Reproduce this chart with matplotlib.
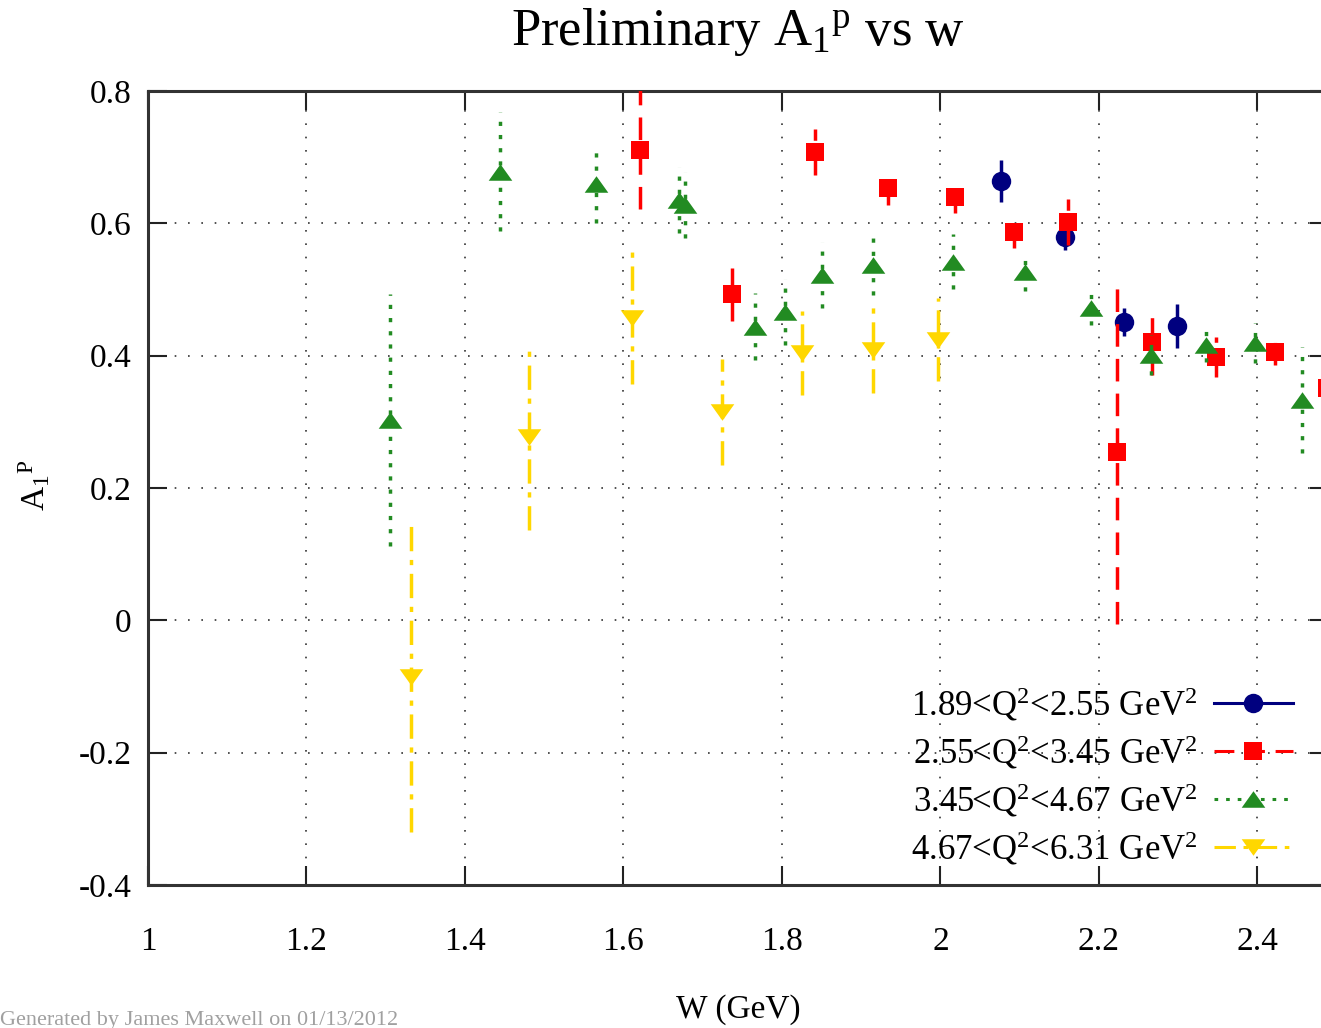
import matplotlib
matplotlib.use('Agg')
import matplotlib.pyplot as plt
from matplotlib.lines import Line2D

plt.rcParams['font.family'] = ['Liberation Serif', 'DejaVu Serif']
plt.rcParams['mathtext.fontset'] = 'custom'
plt.rcParams['mathtext.rm'] = 'Liberation Serif'
plt.rcParams['mathtext.it'] = 'Liberation Serif:italic'
plt.rcParams['mathtext.default'] = 'regular'

# A1p asymmetry per Q^2 bin: W (GeV), value, error
w_q1 = [2.076, 2.157, 2.232, 2.298]
a_q1 = [0.664, 0.580, 0.451, 0.445]
e_q1 = [0.032, 0.020, 0.021, 0.033]

w_q2 = [1.621, 1.737, 1.842, 1.934, 2.018, 2.093, 2.161, 2.223, 2.267, 2.348, 2.422, 2.488]
a_q2 = [0.711, 0.493, 0.708, 0.653, 0.640, 0.587, 0.602, 0.255, 0.421, 0.398, 0.406, 0.351]
e_q2 = [0.090, 0.040, 0.035, 0.025, 0.024, 0.025, 0.035, 0.260, 0.050, 0.030, 0.020, 0.030]

w_q3 = [1.305, 1.444, 1.565, 1.670, 1.678, 1.766, 1.804, 1.850, 1.915, 2.016, 2.107,
        2.190, 2.266, 2.335, 2.397, 2.456]
a_q3 = [0.303, 0.678, 0.660, 0.635, 0.628, 0.444, 0.466, 0.522, 0.537, 0.542, 0.527,
        0.472, 0.401, 0.416, 0.419, 0.333]
e_q3 = [0.190, 0.090, 0.060, 0.050, 0.050, 0.050, 0.050, 0.050, 0.045, 0.042, 0.030,
        0.025, 0.030, 0.025, 0.030, 0.080]

w_q4 = [1.332, 1.481, 1.611, 1.724, 1.825, 1.915, 1.997]
a_q4 = [-0.085, 0.277, 0.457, 0.315, 0.404, 0.409, 0.424]
e_q4 = [0.235, 0.140, 0.100, 0.080, 0.063, 0.065, 0.063]

labels = ['1.89<Q$^2$<2.55 GeV$^2$', '2.55<Q$^2$<3.45 GeV$^2$',
          '3.45<Q$^2$<4.67 GeV$^2$', '4.67<Q$^2$<6.31 GeV$^2$']
xticks = [1, 1.2, 1.4, 1.6, 1.8, 2, 2.2, 2.4]
xticklabels = ['1', '1.2', '1.4', '1.6', '1.8', '2', '2.2', '2.4']
yticks = [-0.4, -0.2, 0, 0.2, 0.4, 0.6, 0.8]
yticklabels = ['-0.4', '-0.2', '0', '0.2', '0.4', '0.6', '0.8']

tri_up = [(0, 0.7), (-1, -0.7), (1, -0.7)]
tri_down = [(0, -0.7), (-1, 0.7), (1, 0.7)]

styles = [
    dict(color='#00007f', marker='o', ms=14, ls='-'),
    dict(color='#ff0000', marker='s', ms=13, ls=(0, (6.5, 3.5))),
    dict(color='#228b22', marker=tri_up, ms=17, ls=(0, (1.2, 2.6))),
    dict(color='#ffd700', marker=tri_down, ms=17, ls=(0, (7, 2.5, 1.5, 2.5))),
]
series = [(w_q1, a_q1, e_q1), (w_q2, a_q2, e_q2), (w_q3, a_q3, e_q3), (w_q4, a_q4, e_q4)]

fig = plt.figure(figsize=(13.21, 10.28), dpi=100)
ax = fig.add_axes([148 / 1321, 143 / 1028, 1180.8 / 1321, 794 / 1028])

for (w, a, e), st in zip(series, styles):
    eb = ax.errorbar(w, a, yerr=e, fmt='none', ecolor=st['color'], elinewidth=2.5,
                     capsize=0, zorder=3)
    eb[2][0].set_linestyle(st['ls'])
    ax.plot(w, a, linestyle='none', marker=st['marker'], ms=st['ms'],
            color=st['color'], markeredgewidth=0, zorder=3)

ax.set_xlim(1, 2.49)
ax.set_ylim(-0.4, 0.8)
ax.set_xticks(xticks)
ax.set_xticklabels(xticklabels)
ax.set_yticks(yticks)
ax.set_yticklabels(yticklabels)
ax.tick_params(direction='in', length=14, width=1.5, colors='#222222', labelcolor='black',
               top=True, right=True, labelsize=24)
ax.tick_params(axis='x', pad=30)
ax.tick_params(axis='y', pad=12)
ax.grid(True, color='#333333', linestyle=(0, (1, 7)), linewidth=1.2)
for sp in ax.spines.values():
    sp.set_linewidth(2.2)
    sp.set_color('#333333')

handles = [Line2D([], [], color=st['color'], ls=st['ls'], lw=2.2, marker=st['marker'],
                  ms=st['ms'], markeredgewidth=0) for st in styles]
fig.legend(handles, labels, loc='upper left', bbox_to_anchor=(894 / 1321, 1 - 668 / 1028),
           frameon=False, fontsize=25, markerfirst=False, handlelength=2.27,
           handletextpad=0.45, labelspacing=0.3, borderpad=0)

fig.text(738 / 1321, 1 - 32 / 1028, 'Preliminary A$_1$$^p$ vs w', ha='center', va='center',
         fontsize=38)
fig.text(738 / 1321, 1 - 1010 / 1028, 'W (GeV)', ha='center', va='center', fontsize=24)
fig.text(35 / 1321, 1 - 485 / 1028, 'A$_1$$^P$', ha='center', va='center', rotation=90,
         fontsize=24)
fig.text(0, 1 - 1020 / 1028, 'Generated by James Maxwell on 01/13/2012', ha='left',
         va='center', fontsize=16, color='#a0a0a0')

fig.savefig('out.png', dpi=100)
